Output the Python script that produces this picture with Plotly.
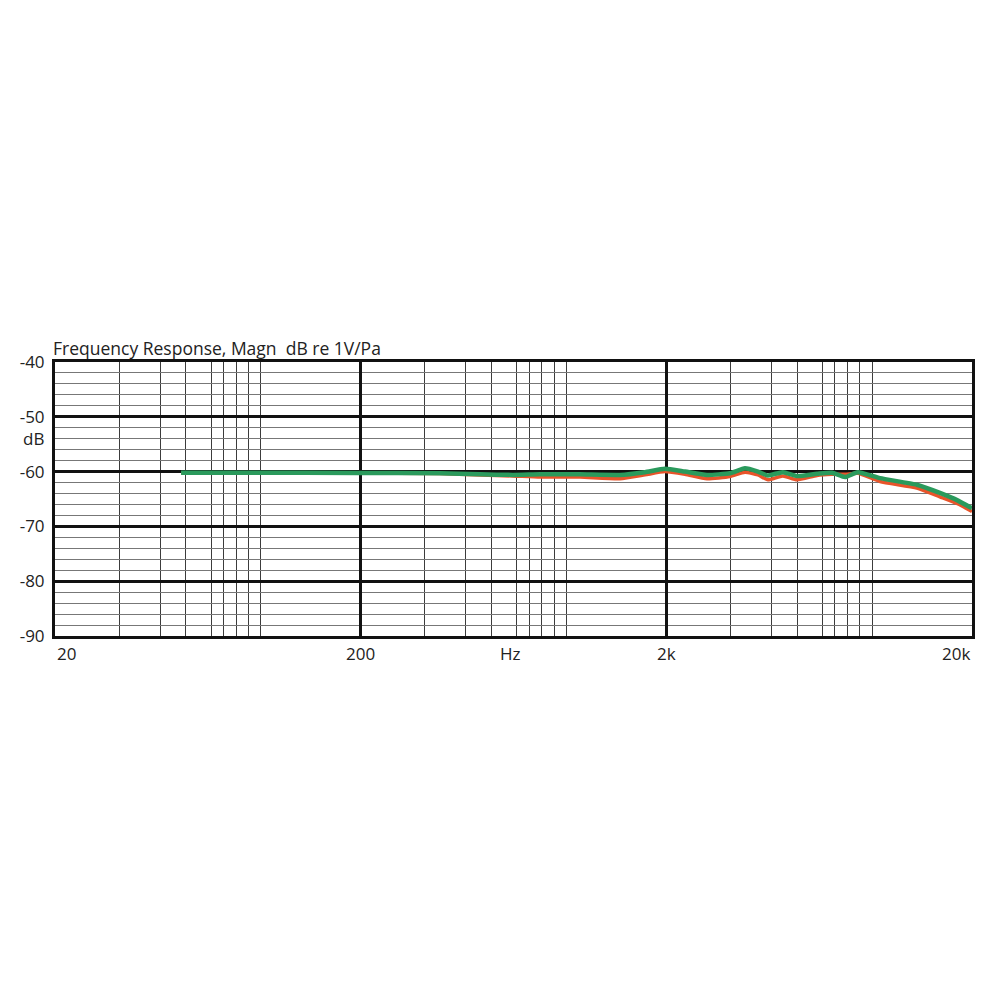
import math
import plotly.graph_objects as go

# ---- data ----
freq_hz = [51.7, 87, 196, 363, 491, 630, 773, 1043, 1410, 1703, 1978, 2302, 2716,
           3229, 3616, 3989, 4300, 4811, 5350, 6220, 6967, 7680, 8470, 10000,
           13200, 15700, 18000, 20000]
green_db = [-60.2, -60.2, -60.25, -60.3, -60.5, -60.6, -60.5, -60.5, -60.6, -60.1,
            -59.5, -60.0, -60.6, -60.3, -59.4, -60.0, -60.7, -60.1, -60.8, -60.4,
            -60.2, -61.0, -60.1, -61.2, -62.4, -63.9, -65.3, -66.7]
red_db = [-60.25, -60.25, -60.3, -60.35, -60.6, -60.8, -61.0, -61.0, -61.3, -60.6,
          -60.0, -60.5, -61.3, -60.9, -60.1, -60.6, -61.5, -60.8, -61.5, -60.7,
          -60.5, -60.5, -60.3, -61.8, -63.0, -64.6, -65.9, -67.3]

x_major_vals = [20, 200, 2000, 20000]
x_major_text = ["20", "200", "2k", "20k"]
x_minor_mult = [1.62, 2.21, 2.68, 3.24, 3.56, 3.91, 4.30, 4.71]
y_tick_vals = [-90, -80, -70, -60, -50, -40]
y_tick_text = ["-90", "-80", "-70", "-60", "-50", "-40"]
title_text = "Frequency Response, Magn  dB re 1V/Pa"
x_unit_text = "Hz"
x_unit_pos = 620
y_unit_text = "dB"
y_unit_pos = -54

x_minor_vals = [d * m for d in [20, 200, 2000] for m in x_minor_mult]

FONT = "Open Sans"
TXT = "#222"

fig = go.Figure()
fig.add_trace(go.Scatter(x=freq_hz, y=red_db, mode="lines",
                         line=dict(color="#e8542a", width=3.5, shape="spline", smoothing=0.5),
                         hoverinfo="skip", showlegend=False))
fig.add_trace(go.Scatter(x=freq_hz, y=green_db, mode="lines",
                         line=dict(color="#2a9a5c", width=4.5, shape="spline", smoothing=0.5),
                         hoverinfo="skip", showlegend=False))

fig.update_layout(
    width=1000, height=1000,
    margin=dict(l=47, r=36, t=354, b=372, pad=0, autoexpand=False),
    paper_bgcolor="white", plot_bgcolor="white",
    font=dict(family=FONT, size=15, color=TXT),
    showlegend=False,
    xaxis=dict(
        type="log", range=[math.log10(20), math.log10(20000)], automargin=False,
        tickmode="array", tickvals=x_major_vals, ticktext=x_major_text,
        showticklabels=False, ticks="",
        showgrid=True, gridcolor="#111", gridwidth=2.5,
        showline=True, linecolor="#111", linewidth=3, mirror=True,
        zeroline=False,
        minor=dict(tickmode="array", tickvals=x_minor_vals, showgrid=True,
                   gridcolor="#3c3c3c", gridwidth=1, ticks=""),
    ),
    yaxis=dict(
        range=[-90, -40], tickmode="array", tickvals=y_tick_vals, ticktext=y_tick_text,
        automargin=False, ticks="", ticklabelstandoff=4,
        tickfont=dict(family=FONT, size=17, color=TXT),
        showgrid=True, gridcolor="#111", gridwidth=2.5,
        showline=True, linecolor="#111", linewidth=3, mirror=True,
        zeroline=False,
        minor=dict(tick0=-90, dtick=2, showgrid=True, gridcolor="#777",
                   gridwidth=1, ticks=""),
    ),
)

annots = []
x_anchor = ["left", "center", "center", "right"]
for v, t, a in zip(x_major_vals, x_major_text, x_anchor):
    annots.append(dict(x=math.log10(v), y=0, xref="x", yref="paper",
                       text=t, showarrow=False, xanchor=a, yanchor="top", yshift=-4,
                       font=dict(family=FONT, size=17, color=TXT)))
annots.append(dict(x=math.log10(x_unit_pos), y=0, xref="x", yref="paper", text=x_unit_text,
                   showarrow=False, xanchor="center", yanchor="top", yshift=-4,
                   font=dict(family=FONT, size=17, color=TXT)))
annots.append(dict(x=0, y=y_unit_pos, xref="paper", yref="y", text=y_unit_text, showarrow=False,
                   xanchor="right", yanchor="middle", xshift=-9,
                   font=dict(family=FONT, size=17, color=TXT)))
annots.append(dict(x=0, y=1, xref="paper", yref="paper", text=title_text, showarrow=False,
                   xanchor="left", yanchor="bottom", yshift=0, xshift=-4,
                   font=dict(family=FONT, size=17.5, color=TXT)))
fig.update_layout(annotations=annots)

fig.write_html("out.html")
